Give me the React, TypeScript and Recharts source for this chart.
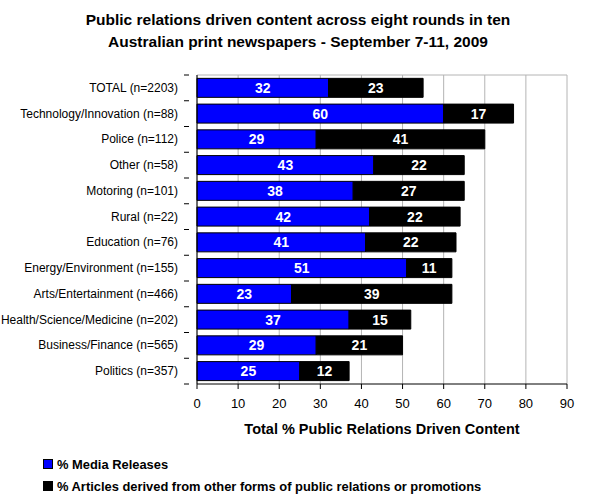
import React from "react";
import { BarChart, Bar, XAxis, YAxis, CartesianGrid, LabelList } from "recharts";

const categories = [
  "TOTAL (n=2203)",
  "Technology/Innovation (n=88)",
  "Police (n=112)",
  "Other (n=58)",
  "Motoring (n=101)",
  "Rural (n=22)",
  "Education (n=76)",
  "Energy/Environment (n=155)",
  "Arts/Entertainment (n=466)",
  "Health/Science/Medicine (n=202)",
  "Business/Finance (n=565)",
  "Politics (n=357)",
];
const mediaReleases = [32, 60, 29, 43, 38, 42, 41, 51, 23, 37, 29, 25];
const otherPR = [23, 17, 41, 22, 27, 22, 22, 11, 39, 15, 21, 12];
const xTicks = [0, 10, 20, 30, 40, 50, 60, 70, 80, 90];
const seriesNames = [
  "% Media Releases",
  "% Articles derived from other forms of public relations or promotions",
];
const titleLines = [
  "Public relations driven content across eight rounds in ten",
  "Australian print newspapers - September 7-11, 2009",
];
const xLabel = "Total % Public Relations Driven Content";

const data = categories.map((c, i) => ({ name: c, media: mediaReleases[i], other: otherPR[i] }));

const FONT = "'Liberation Sans', Arial, sans-serif";
const W = 596;
const H = 498;
const M = { top: 75, right: 29, left: 0, bottom: 64 };
const Y_W = 197;
const X_H = 50;
const PLOT_H = H - M.top - M.bottom - X_H;
const BAND = PLOT_H / categories.length;

const YTick = (props: any) => {
  const { x, y, payload, index } = props;
  const ax = x + 0;
  return (
    <g>
      <text x={ax - 11} y={y} dy={4} textAnchor="end" fontSize={12} fontFamily={FONT} fill="#000">
        {payload.value}
      </text>
      <line x1={ax - 5} x2={ax} y1={y - BAND / 2} y2={y - BAND / 2} stroke="#000" />
      {index === categories.length - 1 && (
        <line x1={ax - 5} x2={ax} y1={y + BAND / 2} y2={y + BAND / 2} stroke="#000" />
      )}
    </g>
  );
};

export default function App() {
  return (
    <div style={{ position: "absolute", left: 0, top: 0, width: W, height: H, background: "#fff", fontFamily: FONT }}>
      <div
        style={{
          position: "absolute",
          left: 0,
          top: 9,
          width: W,
          textAlign: "center",
          fontWeight: "bold",
          fontSize: 15.5,
          lineHeight: "22px",
          color: "#000",
        }}
      >
        {titleLines.map((t) => (
          <div key={t}>{t}</div>
        ))}
      </div>
      <BarChart
        width={W}
        height={H}
        data={data}
        layout="vertical"
        margin={M}
        barCategoryGap="13%"
        style={{ position: "absolute", left: 0, top: 0 }}
      >
        <CartesianGrid
          stroke="#b4b4b4"
          horizontal={true}
          vertical={true}
          horizontalPoints={[M.top]}
        />
        <XAxis
          type="number"
          domain={[0, 90]}
          ticks={xTicks}
          interval={0}
          height={X_H}
          tickSize={5}
          tickMargin={10}
          stroke="#000"
          tick={{ fill: "#000", fontSize: 13, fontFamily: FONT }}
          label={{
            value: xLabel,
            position: "insideBottom",
            offset: 0,
            fill: "#000",
            fontSize: 14.5,
            fontWeight: "bold",
            fontFamily: FONT,
          }}
        />
        <YAxis
          type="category"
          dataKey="name"
          width={Y_W}
          stroke="#000"
          tickLine={false}
          tick={<YTick />}
          interval={0}
        />
        <Bar dataKey="media" stackId="a" fill="#0000ff" stroke="#000" strokeWidth={1} isAnimationActive={false}>
          <LabelList
            dataKey="media"
            position="center"
            fill="#fff"
            fontSize={14}
            fontWeight="bold"
            fontFamily={FONT}
          />
        </Bar>
        <Bar dataKey="other" stackId="a" fill="#000" stroke="#000" strokeWidth={1} isAnimationActive={false}>
          <LabelList
            dataKey="other"
            position="center"
            fill="#fff"
            fontSize={14}
            fontWeight="bold"
            fontFamily={FONT}
          />
        </Bar>
      </BarChart>
      <div style={{ position: "absolute", left: 43, top: 453, fontSize: 12.9, fontWeight: "bold", color: "#000" }}>
        {seriesNames.map((n, i) => (
          <div key={n} style={{ display: "flex", alignItems: "center", height: 22 }}>
            <span
              style={{
                display: "inline-block",
                width: 8,
                height: 8,
                background: i === 0 ? "#0000ff" : "#000",
                border: "1px solid #000",
                marginRight: 4,
              }}
            />
            <span>{n}</span>
          </div>
        ))}
      </div>
    </div>
  );
}
